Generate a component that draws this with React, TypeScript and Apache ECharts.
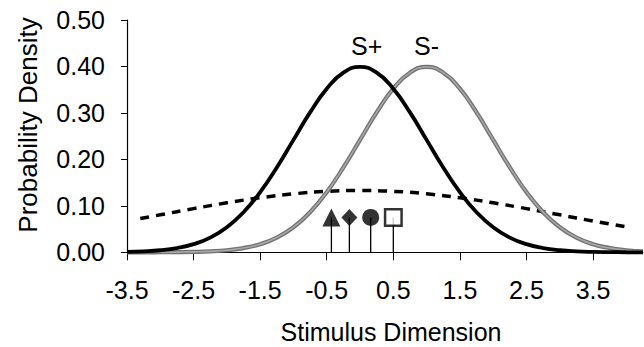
import { useEffect, useRef } from 'react';
import * as echarts from 'echarts';

// Stimulus dimension sample points
const xs = [-3.5, -3.25, -3, -2.75, -2.5, -2.25, -2, -1.75, -1.5, -1.25, -1, -0.75, -0.5, -0.25, 0, 0.25, 0.5, 0.75, 1, 1.25, 1.5, 1.75, 2, 2.25, 2.5, 2.75, 3, 3.25, 3.5, 3.75, 4, 4.25];
const sPlus = [0.0009, 0.002, 0.0044, 0.0091, 0.0175, 0.0317, 0.054, 0.0863, 0.1295, 0.1826, 0.242, 0.3011, 0.3521, 0.3867, 0.3989, 0.3867, 0.3521, 0.3011, 0.242, 0.1826, 0.1295, 0.0863, 0.054, 0.0317, 0.0175, 0.0091, 0.0044, 0.002, 0.0009, 0.0004, 0.0001, 0.0];
const sMinus = [0.0, 0.0, 0.0001, 0.0004, 0.0009, 0.002, 0.0044, 0.0091, 0.0175, 0.0317, 0.054, 0.0863, 0.1295, 0.1826, 0.242, 0.3011, 0.3521, 0.3867, 0.3989, 0.3867, 0.3521, 0.3011, 0.242, 0.1826, 0.1295, 0.0863, 0.054, 0.0317, 0.0175, 0.0091, 0.0044, 0.002];
const dashedX = [-3.3, -3, -2.5, -2, -1.5, -1, -0.5, 0, 0.5, 1, 1.5, 2, 2.5, 3, 3.5, 4.05];
const dashedY = [0.0726, 0.0807, 0.094, 0.1065, 0.1174, 0.1258, 0.1312, 0.133, 0.1312, 0.1258, 0.1174, 0.1065, 0.094, 0.0807, 0.0673, 0.0535];
const markerX = [-0.43, -0.16, 0.16, 0.5];
const markerY = [0.075, 0.075, 0.075, 0.075];
const markerSymbols = ['triangle', 'diamond', 'circle', 'rect'];
const curveLabels = ['S+', 'S-'];
const curveLabelX = [0.1, 1.0];
const curveLabelY = [0.444, 0.444];
const xTicks = [-3.5, -2.5, -1.5, -0.5, 0.5, 1.5, 2.5, 3.5];
const yTicks = [0, 0.1, 0.2, 0.3, 0.4, 0.5];
const xTitle = 'Stimulus Dimension';
const yTitle = 'Probability Density';

const FONT = '"Liberation Sans", Arial, Helvetica, sans-serif';

export default function App() {
  const ref = useRef<HTMLDivElement>(null);
  useEffect(() => {
    if (!ref.current) return;
    const chart = echarts.init(ref.current, null, { renderer: 'svg' });
    const pairs = (a: number[], b: number[]) => a.map((v, i) => [v, b[i]]);
    const markerData = markerX.map((x, i) => {
      const sym = markerSymbols[i];
      const open = sym === 'rect';
      let size: number | number[] = 17;
      if (sym === 'triangle') size = [18, 18];
      if (sym === 'diamond') size = [16, 17];
      if (sym === 'rect') size = 16.5;
      return {
        value: [x, markerY[i]],
        symbol: sym,
        symbolSize: size,
        itemStyle: open
          ? { color: '#ffffff', borderColor: '#000000', borderWidth: 2.5 }
          : { color: '#000000', borderWidth: 0 },
      };
    });
    chart.setOption({
      animation: false,
      backgroundColor: '#ffffff',
      grid: { left: 127, right: 1, top: 20, bottom: 94.7, containLabel: false },
      xAxis: {
        type: 'value',
        min: -3.5,
        max: 4.25,
        interval: 1,
        splitLine: { show: false },
        axisLine: { show: true, onZero: false, lineStyle: { color: '#000', width: 1 } },
        axisTick: { show: true, length: 8, inside: false, customValues: xTicks, lineStyle: { color: '#000', width: 1 } },
        axisLabel: {
          customValues: xTicks,
          margin: 25,
          fontSize: 25,
          fontFamily: FONT,
          color: '#000',
          formatter: (v: number) => v.toFixed(1),
        },
      },
      yAxis: {
        type: 'value',
        min: 0,
        max: 0.5,
        interval: 0.1,
        splitLine: { show: false },
        axisLine: { show: true, onZero: false, lineStyle: { color: '#000', width: 1.2 } },
        axisTick: { show: true, length: 6, customValues: yTicks, lineStyle: { color: '#000', width: 1 } },
        axisLabel: {
          customValues: yTicks,
          margin: 22,
          fontSize: 25,
          fontFamily: FONT,
          color: '#000',
          formatter: (v: number) => v.toFixed(2),
        },
      },
      graphic: [
        {
          type: 'text',
          x: 391,
          y: 332,
          style: { text: xTitle, fontSize: 25, fontFamily: FONT, fill: '#000', align: 'center', verticalAlign: 'middle', textAlign: 'center', textVerticalAlign: 'middle' },
        },
        {
          type: 'text',
          x: 28,
          y: 125,
          rotation: Math.PI / 2,
          style: { text: yTitle, fontSize: 26, fontFamily: FONT, fill: '#000', align: 'center', verticalAlign: 'middle', textAlign: 'center', textVerticalAlign: 'middle' },
        },
      ],
      series: [
        {
          type: 'line',
          name: 'wide',
          data: pairs(dashedX, dashedY),
          smooth: true,
          symbol: 'none',
          clip: false,
          lineStyle: { color: '#000', width: 3.5, type: [9, 7], cap: 'butt' },
          z: 2,
        },
        {
          type: 'line',
          name: 'S- outer',
          data: pairs(xs, sMinus),
          smooth: true,
          symbol: 'none',
          clip: false,
          lineStyle: { color: '#727272', width: 4.2 },
          z: 3,
        },
        {
          type: 'line',
          name: 'S- inner',
          data: pairs(xs, sMinus),
          smooth: true,
          symbol: 'none',
          clip: false,
          lineStyle: { color: '#a8a8a8', width: 1.6 },
          z: 3,
        },
        {
          type: 'line',
          name: 'S+',
          data: pairs(xs, sPlus),
          smooth: true,
          symbol: 'none',
          clip: false,
          lineStyle: { color: '#000', width: 3.8 },
          z: 4,
        },
        {
          type: 'custom',
          name: 'stems',
          data: pairs(markerX, markerY),
          z: 5,
          renderItem: (params: any, api: any) => {
            const p0 = api.coord([api.value(0), 0]);
            const p1 = api.coord([api.value(0), api.value(1)]);
            return {
              type: 'line',
              shape: { x1: p0[0], y1: p0[1], x2: p1[0], y2: p1[1] },
              style: { stroke: '#000', lineWidth: 1.3 },
            };
          },
        },
        {
          type: 'scatter',
          name: 'markers',
          data: markerData,
          z: 6,
        },
        {
          type: 'custom',
          name: 'labels',
          data: curveLabels.map((t, i) => [curveLabelX[i], curveLabelY[i], i]),
          z: 7,
          renderItem: (params: any, api: any) => {
            const p = api.coord([api.value(0), api.value(1)]);
            return {
              type: 'text',
              x: p[0],
              y: p[1],
              style: {
                text: curveLabels[params.dataIndex],
                fontSize: 25,
                fontFamily: FONT,
                fill: '#000',
                align: 'center',
                verticalAlign: 'middle',
              },
            };
          },
        },
      ],
    });
    return () => chart.dispose();
  }, []);
  return <div ref={ref} style={{ position: 'absolute', left: 0, top: 0, width: 644, height: 347, background: '#fff' }} />;
}
